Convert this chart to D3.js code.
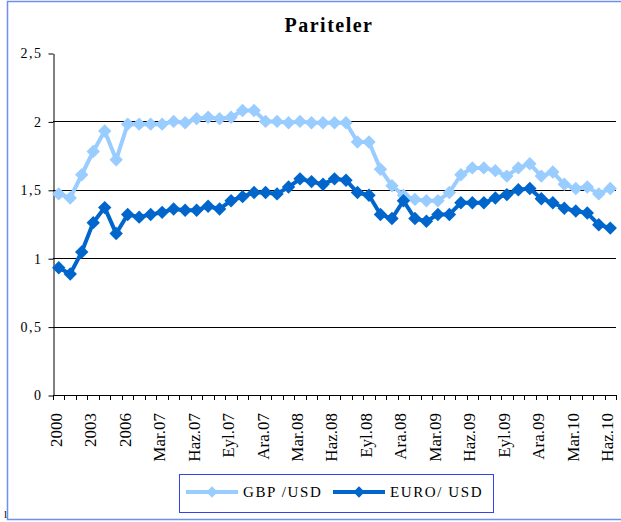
<!DOCTYPE html>
<html><head><meta charset="utf-8">
<script src="https://cdn.jsdelivr.net/npm/d3@7"></script>
<style>
html,body{margin:0;padding:0;background:#fff;}
svg{display:block;}
text{font-family:"Liberation Serif","Times New Roman",Times,serif !important;fill:#000;}
</style></head>
<body>
<svg id="c" width="621" height="522"></svg>
<script>
const categories = ["2000","2001","2002","2003","2004","2005","2006",
 "Oca.07","Şub.07","Mar.07","Nis.07","May.07","Haz.07","Tem.07","Ağu.07","Eyl.07","Eki.07","Kas.07","Ara.07",
 "Oca.08","Şub.08","Mar.08","Nis.08","May.08","Haz.08","Tem.08","Ağu.08","Eyl.08","Eki.08","Kas.08","Ara.08",
 "Oca.09","Şub.09","Mar.09","Nis.09","May.09","Haz.09","Tem.09","Ağu.09","Eyl.09","Eki.09","Kas.09","Ara.09",
 "Oca.10","Şub.10","Mar.10","Nis.10","May.10","Haz.10"];
const gbpUsd = [1.47,1.44,1.61,1.78,1.93,1.72,1.98,1.98,1.98,1.98,2.00,1.99,2.02,2.03,2.02,2.03,2.08,2.08,2.00,2.00,1.99,2.00,1.99,1.99,1.99,1.99,1.85,1.85,1.65,1.53,1.46,1.43,1.42,1.42,1.48,1.61,1.66,1.66,1.64,1.60,1.66,1.69,1.60,1.63,1.54,1.51,1.52,1.47,1.51];
const euroUsd = [0.93,0.885,1.045,1.26,1.37,1.18,1.32,1.30,1.32,1.335,1.36,1.35,1.35,1.38,1.36,1.42,1.45,1.48,1.48,1.47,1.52,1.58,1.56,1.54,1.58,1.57,1.48,1.46,1.32,1.29,1.42,1.29,1.27,1.32,1.32,1.405,1.405,1.405,1.44,1.465,1.50,1.51,1.435,1.405,1.365,1.345,1.33,1.245,1.22];
const seriesNames = ["GBP /USD","EURO/ USD"];
const seriesColors = ["#99ccff","#0066cc"];
const yTicks = [0,0.5,1,1.5,2,2.5];
const title = "Pariteler";

const svg = d3.select("#c");
const L = 53, R = 616, T = 53, B = 395;

// outer frame
svg.append("rect").attr("x",7.5).attr("y",1.5).attr("width",700).attr("height",518)
  .attr("fill","none").attr("stroke","#6f8ff0").attr("stroke-width",1.5);
svg.append("text").attr("x",4).attr("y",518).attr("font-size",11).text("l");

const x = d3.scaleBand().domain(categories).range([L,R]).paddingInner(0).paddingOuter(0);
const cx = c => x(c) + x.bandwidth()/2;
const y = d3.scaleLinear().domain([0,2.5]).range([B,T]);

// gridlines
svg.append("g").selectAll("line").data(yTicks.filter(v=>v>0 && v<2.5)).join("line")
  .attr("x1",L).attr("x2",R).attr("y1",d=>Math.round(y(d))+0.5).attr("y2",d=>Math.round(y(d))+0.5)
  .attr("stroke","#000").attr("stroke-width",1);

// y axis
const ya = svg.append("g").attr("transform",`translate(${L+0.5},0.5)`)
  .call(d3.axisLeft(y).tickValues(yTicks).tickSize(5).tickSizeOuter(0)
    .tickFormat(d=>String(d).replace(".",",")));
ya.attr("font-family",null);
ya.select(".domain").attr("stroke","#000");
ya.selectAll(".tick line").attr("stroke","#000");
ya.selectAll(".tick text").attr("font-size",14)
  .attr("x",-11).attr("letter-spacing","1.5px").attr("fill","#000");

// x axis line + ticks at band boundaries
const bounds = categories.map(c=>x(c)).concat([R]);
svg.append("line").attr("x1",L).attr("x2",R).attr("y1",B+0.5).attr("y2",B+0.5).attr("stroke","#000");
svg.append("g").selectAll("line").data(bounds).join("line")
  .attr("x1",d=>Math.round(d)+0.5).attr("x2",d=>Math.round(d)+0.5)
  .attr("y1",B).attr("y2",B+5).attr("stroke","#000");
// x labels
const labelCats = categories.filter((c,i)=>i%3===0);
svg.append("g").selectAll("text").data(labelCats).join("text")
  .attr("transform",d=>`translate(${cx(d)-3},${B+18}) rotate(-90)`)
  .attr("text-anchor","end").attr("dy","0.35em").attr("font-size",17).text(d=>d);

// series
const series = [gbpUsd, euroUsd];
const line = d3.line().x((d,i)=>cx(categories[i])).y(d=>y(d));
const diamond = d3.symbol().type(d3.symbolSquare).size(90);
series.forEach((vals,k)=>{
  const g = svg.append("g");
  g.append("path").datum(vals).attr("d",line).attr("fill","none")
    .attr("stroke",seriesColors[k]).attr("stroke-width",4).attr("stroke-linejoin","round");
  g.selectAll("path.m").data(vals).join("path").attr("class","m")
    .attr("d",diamond)
    .attr("transform",(d,i)=>`translate(${cx(categories[i])},${y(d)}) rotate(45)`)
    .attr("fill",seriesColors[k]);
});

// title
svg.append("text").attr("x",329).attr("y",32).attr("text-anchor","middle")
  .attr("font-size",20).attr("font-weight","bold").attr("letter-spacing","1.5px").text(title);

// legend
const lg = svg.append("g");
lg.append("rect").attr("x",179.5).attr("y",474.5).attr("width",314).attr("height",38)
  .attr("fill","#fff").attr("stroke","#3344ee").attr("stroke-width",1);
const legendItems = [{x1:186,x2:238,tx:243},{x1:333,x2:385,tx:390}];
legendItems.forEach((it,k)=>{
  lg.append("line").attr("x1",it.x1).attr("x2",it.x2).attr("y1",492).attr("y2",492)
    .attr("stroke",seriesColors[k]).attr("stroke-width",4);
  lg.append("path").attr("d",d3.symbol().type(d3.symbolSquare).size(64)())
    .attr("transform",`translate(${(it.x1+it.x2)/2},492) rotate(45)`).attr("fill",seriesColors[k]);
  lg.append("text").attr("x",it.tx).attr("y",497).attr("font-size",15)
    .attr("letter-spacing","1.6px").text(seriesNames[k]);
});
</script>
</body></html>
